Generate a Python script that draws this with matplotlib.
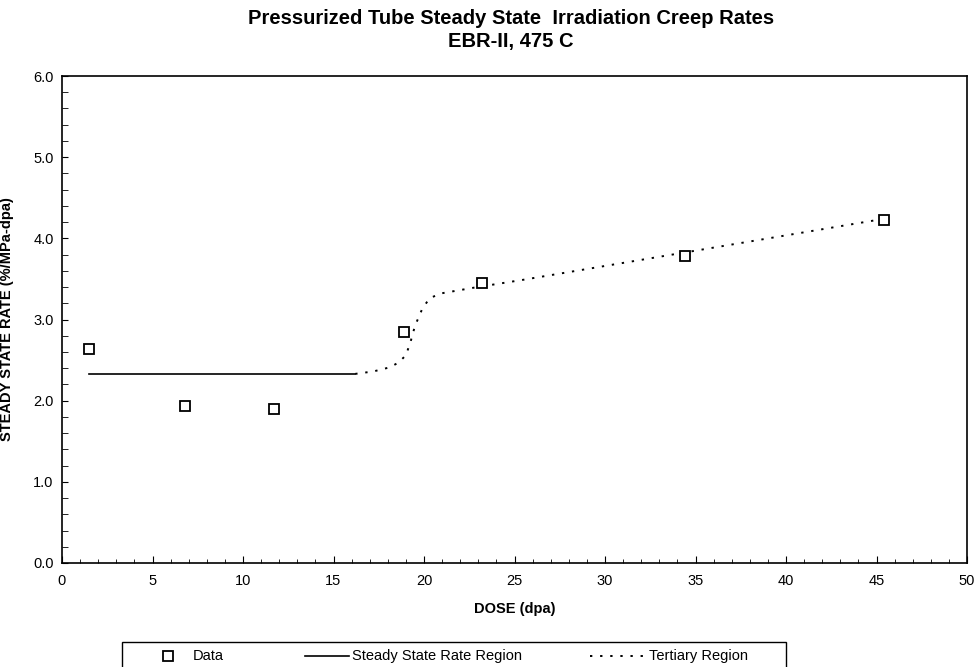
import matplotlib
matplotlib.use("Agg")
import matplotlib.pyplot as plt
from matplotlib.lines import Line2D
from matplotlib.patches import Rectangle
from matplotlib.ticker import MultipleLocator

plt.rcParams.update({
    "font.family": ["Liberation Sans", "DejaVu Sans"],
    "font.size": 10,
})

# measured creep rates
dose = [1.5, 6.8, 11.7, 18.9, 23.2, 34.4, 45.4]
rate = [2.64, 1.93, 1.90, 2.85, 3.45, 3.78, 4.22]

# steady state region (flat fit)
ss_dose = [1.5, 16.2]
ss_rate = [2.33, 2.33]

# tertiary region curve
tert_dose = [16.2, 17.2, 18.1, 18.6, 19.0, 19.25, 19.5, 19.9, 20.3, 20.9, 22.7, 25.5, 45.4]
tert_rate = [2.33, 2.36, 2.41, 2.47, 2.56, 2.72, 2.92, 3.13, 3.26, 3.32, 3.39, 3.49, 4.24]

W, H = 977, 667
fig = plt.figure(figsize=(W / 100, H / 100), dpi=100)
ax = fig.add_axes([62 / W, 1 - 563 / H, 905 / W, 487 / H])

mk = dict(ls="none", marker="s", ms=6.5, mfc="white", mec="black", mew=1.3)
ss_style = dict(color="black", lw=1.2)
tert_style = dict(color="black", lw=1.4, ls=(0, (1.2, 4)))

ax.plot(dose, rate, zorder=3, **mk)
ax.plot(ss_dose, ss_rate, **ss_style)
ax.plot(tert_dose, tert_rate, **tert_style)

ax.set_xlim(0, 50)
ax.set_ylim(0, 6)
ax.xaxis.set_major_locator(MultipleLocator(5))
ax.xaxis.set_minor_locator(MultipleLocator(1))
ax.yaxis.set_major_locator(MultipleLocator(1))
ax.yaxis.set_minor_locator(MultipleLocator(0.2))
ax.yaxis.set_major_formatter(lambda v, p: f"{v:.1f}")
ax.tick_params(which="both", direction="in", top=False, right=False, labelsize=10.5)
ax.tick_params(axis="x", which="major", length=5, pad=8)
ax.tick_params(axis="x", which="minor", length=3)
ax.tick_params(axis="y", which="major", length=4, pad=6)
ax.tick_params(axis="y", which="minor", length=4)
for s in ax.spines.values():
    s.set_linewidth(1.2)

ax.set_xlabel("DOSE (dpa)", fontweight="bold", fontsize=10.5, labelpad=10)
ax.set_ylabel("STEADY STATE RATE (%/MPa-dpa)", fontweight="bold", fontsize=10.5, labelpad=14)

fig.text(511 / W, 1 - 19 / H, "Pressurized Tube Steady State  Irradiation Creep Rates",
         ha="center", va="center", fontweight="bold", fontsize=14.5)
fig.text(511 / W, 1 - 41 / H, "EBR-II, 475 C",
         ha="center", va="center", fontweight="bold", fontsize=14.5)

# legend box below the plot (runs off the bottom edge like the scan)
def fx(px):
    return px / W

def fy(py):
    return 1 - py / H

fig.patches.append(Rectangle((fx(122), fy(680)), fx(786) - fx(122), fy(642) - fy(680),
                             transform=fig.transFigure, fill=False, ec="black", lw=1.0))
ly = fy(656)
fig.lines.append(Line2D([fx(168)], [ly], transform=fig.transFigure, **mk))
fig.text(fx(193), ly, "Data", va="center", fontsize=10.5)
fig.lines.append(Line2D([fx(305), fx(349)], [ly, ly], transform=fig.transFigure, **ss_style))
fig.text(fx(352), ly, "Steady State Rate Region", va="center", fontsize=10.5)
fig.lines.append(Line2D([fx(590), fx(646)], [ly, ly], transform=fig.transFigure, **tert_style))
fig.text(fx(649), ly, "Tertiary Region", va="center", fontsize=10.5)

fig.savefig("out.png", dpi=100)
